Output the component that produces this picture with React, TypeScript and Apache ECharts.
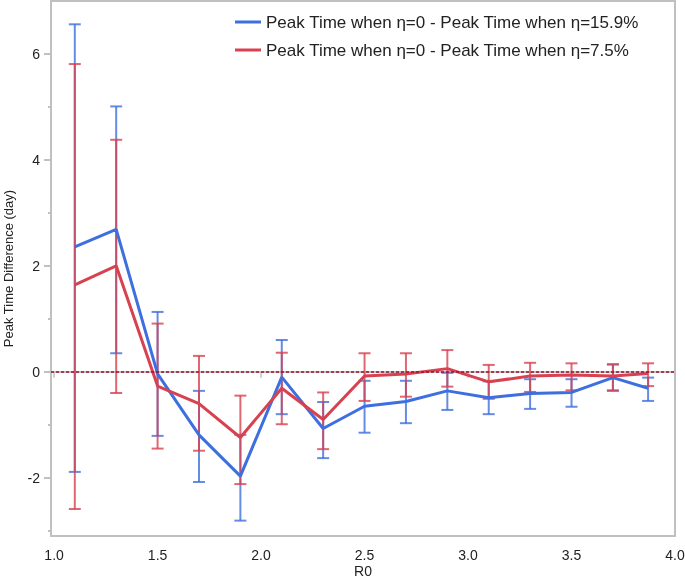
import React, { useEffect, useRef } from "react";
import * as echarts from "echarts";

const r0 = [1.1, 1.3, 1.5, 1.7, 1.9, 2.1, 2.3, 2.5, 2.7, 2.9, 3.1, 3.3, 3.5, 3.7, 3.87];

const blueName = "Peak Time when η=0 - Peak Time when η=15.9%";
const blueMean = [2.36, 2.69, -0.04, -1.19, -1.97, -0.1, -1.07, -0.65, -0.56, -0.36, -0.49, -0.41, -0.39, -0.11, -0.31];
const blueLow = [-1.89, 0.35, -1.21, -2.08, -2.81, -0.8, -1.63, -1.15, -0.97, -0.72, -0.8, -0.7, -0.66, -0.36, -0.55];
const blueHigh = [6.56, 5.01, 1.13, -0.36, -1.19, 0.6, -0.57, -0.17, -0.17, -0.02, -0.18, -0.14, -0.14, 0.14, -0.11];

const redName = "Peak Time when η=0 - Peak Time when η=7.5%";
const redMean = [1.64, 2.0, -0.27, -0.6, -1.24, -0.31, -0.9, -0.08, -0.04, 0.06, -0.19, -0.08, -0.06, -0.08, -0.03];
const redLow = [-2.59, -0.4, -1.45, -1.49, -2.12, -0.99, -1.46, -0.55, -0.47, -0.28, -0.51, -0.38, -0.35, -0.35, -0.27];
const redHigh = [5.81, 4.38, 0.91, 0.3, -0.45, 0.36, -0.39, 0.35, 0.35, 0.41, 0.13, 0.17, 0.16, 0.14, 0.16];

const xTicks = [1.0, 1.5, 2.0, 2.5, 3.0, 3.5, 4.0];
const yMajorTicks = [-2, 0, 2, 4, 6];
const yMinorTicks = [-3, -1, 1, 3, 5];

const BLUE = "#3d6fdf";
const RED = "#d8414f";
const AXIS = "#c0c0c0";
const FONT = "'Liberation Sans', Arial, Helvetica, sans-serif";

function errorSeries(name: string, low: number[], high: number[], color: string) {
  return {
    type: "custom",
    name: name + " err",
    data: r0.map((x, i) => [x, low[i], high[i]]),
    encode: { x: 0, y: [1, 2] },
    silent: true,
    z: 2,
    renderItem: (params: any, api: any) => {
      const x = api.value(0);
      const lo = api.coord([x, api.value(1)]);
      const hi = api.coord([x, api.value(2)]);
      const hw = 6;
      const style = { stroke: color, lineWidth: 2, opacity: 0.8 };
      return {
        type: "group",
        children: [
          { type: "line", shape: { x1: lo[0], y1: lo[1], x2: hi[0], y2: hi[1] }, style },
          { type: "line", shape: { x1: lo[0] - hw, y1: lo[1], x2: lo[0] + hw, y2: lo[1] }, style },
          { type: "line", shape: { x1: hi[0] - hw, y1: hi[1], x2: hi[0] + hw, y2: hi[1] }, style },
        ],
      };
    },
  };
}

export default function App() {
  const ref = useRef<HTMLDivElement>(null);
  useEffect(() => {
    if (!ref.current) return;
    const chart = echarts.init(ref.current, null, { renderer: "svg" });
    const yMin = -3.1;
    const yMax = 7.0;
    chart.setOption({
      animation: false,
      textStyle: { fontFamily: FONT },
      grid: {
        left: 51,
        right: 10,
        top: 1,
        bottom: 42,
        containLabel: false,
        outerBoundsMode: "none",
        show: true,
        borderColor: AXIS,
        borderWidth: 2,
        backgroundColor: "transparent",
      },
      legend: {
        orient: "vertical",
        left: 230,
        top: 8,
        itemWidth: 26,
        itemHeight: 3,
        itemGap: 10,
        icon: "rect",
        data: [blueName, redName],
        textStyle: { fontSize: 17, color: "#222", fontFamily: FONT, lineHeight: 18 },
      },
      xAxis: {
        type: "value",
        min: 0.985,
        max: 4.0,
        name: "R0",
        nameLocation: "middle",
        nameGap: 28,
        nameMoveOverlap: false,
        nameTextStyle: { fontSize: 14, color: "#222", fontFamily: FONT, lineHeight: 14 },
        axisLine: { show: true, lineStyle: { color: AXIS, width: 2 } },
        axisTick: { show: true, customValues: xTicks, length: 6, lineStyle: { color: AXIS, width: 1.5 } },
        axisLabel: {
          customValues: xTicks,
          fontSize: 14,
          color: "#222",
          margin: 12,
          formatter: (v: number) => v.toFixed(1),
        },
        splitLine: { show: false },
      },
      yAxis: [
        {
          type: "value",
          min: yMin,
          max: yMax,
          name: "Peak Time Difference (day)",
          nameLocation: "middle",
          nameGap: 36,
          nameRotate: 90,
          nameMoveOverlap: false,
          nameTextStyle: { fontSize: 13, color: "#222", fontFamily: FONT },
          axisLine: { show: true, lineStyle: { color: AXIS, width: 2 } },
          axisTick: { show: true, customValues: yMajorTicks, length: 7, lineStyle: { color: AXIS, width: 2 } },
          axisLabel: { customValues: yMajorTicks, fontSize: 14, color: "#222", margin: 11 },
          splitLine: { show: false },
        },
        {
          type: "value",
          min: yMin,
          max: yMax,
          position: "left",
          axisLine: { show: false },
          axisTick: { show: true, customValues: yMinorTicks, length: 3, lineStyle: { color: AXIS, width: 2 } },
          axisLabel: { show: false },
          splitLine: { show: false },
        },
      ],
      series: [
        errorSeries(blueName, blueLow, blueHigh, BLUE),
        errorSeries(redName, redLow, redHigh, RED),
        {
          type: "line",
          name: blueName,
          data: r0.map((x, i) => [x, blueMean[i]]),
          symbol: "none",
          lineStyle: { color: BLUE, width: 3 },
          itemStyle: { color: BLUE },
          z: 3,
          markLine: {
            silent: true,
            symbol: "none",
            label: { show: false },
            lineStyle: { color: "#9b1030", type: [3, 2], width: 1.5 },
            data: [{ yAxis: 0 }],
          },
        },
        {
          type: "line",
          name: redName,
          data: r0.map((x, i) => [x, redMean[i]]),
          symbol: "none",
          lineStyle: { color: RED, width: 3 },
          itemStyle: { color: RED },
          z: 4,
        },
      ],
    });
    return () => chart.dispose();
  }, []);
  return <div ref={ref} style={{ position: "fixed", left: 0, top: 0, width: 685, height: 578 }} />;
}
